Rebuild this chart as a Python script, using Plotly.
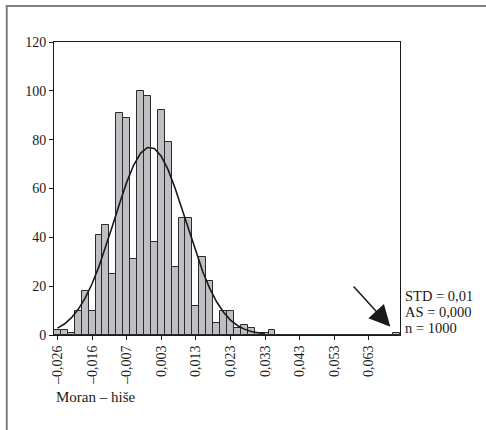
import plotly.graph_objects as go

# Histogram of Moran's I (1000 permutations), 50 bins
counts = [2, 2, 1, 10, 18, 10, 41, 45, 25, 91,
          89, 31, 100, 98, 38, 92, 79, 28, 48, 48,
          12, 32, 22, 5, 10, 10, 3, 4, 3, 1,
          1, 2, 0, 0, 0, 0, 0, 0, 0, 0,
          0, 0, 0, 0, 0, 0, 0, 0, 0, 1]
# fitted normal curve, read at bin centres
curve = [2.8, 4.5, 7.0, 10.5, 15.1, 21.0, 28.1, 36.3, 45.2, 54.1,
         62.5, 69.5, 74.4, 76.8, 76.4, 73.2, 67.6, 60.1, 51.5, 42.5,
         33.8, 25.9, 19.1, 13.6, 9.3, 6.1, 3.9, 2.4, 1.4, 0.8, 0.4]
tick_labels = ["–0,026", "–0,016", "–0,007", "0,003", "0,013",
               "0,023", "0,033", "0,043", "0,053", "0,063"]
y_ticks = [0, 20, 40, 60, 80, 100, 120]
stats_lines = ["STD = 0,01", "AS = 0,000", "n = 1000"]
x_title = "Moran – hiše"

bins = list(range(len(counts)))
tick_pos = bins[::5]

W, H = 486, 430
L, R, T, B = 54, 85.5, 41.7, 95
pw, ph = W - L - R, H - T - B
FONT = "Liberation Serif"

fig = go.Figure()
fig.add_trace(go.Bar(x=bins, y=counts, width=1,
                     marker=dict(color="#bebfc3", line=dict(color="#2a2a2a", width=1)),
                     hoverinfo="skip"))
fig.add_trace(go.Scatter(x=bins[:len(curve)], y=curve, mode="lines",
                         line=dict(color="#1a1a1a", width=1.6), hoverinfo="skip"))

def px2paper_x(px):
    return (px - L) / pw

def py2paper_y(py):
    return (H - B - py) / ph

# outer frame (left and top edges visible)
fig.add_shape(type="line", xref="paper", yref="paper",
              x0=px2paper_x(6.7), x1=px2paper_x(6.7), y0=py2paper_y(5.7), y1=py2paper_y(432),
              line=dict(color="#7f7f7f", width=2))
fig.add_shape(type="line", xref="paper", yref="paper",
              x0=px2paper_x(5.7), x1=px2paper_x(488), y0=py2paper_y(5.7), y1=py2paper_y(5.7),
              line=dict(color="#7f7f7f", width=2))

# stats text
for i, (txt, yv) in enumerate(zip(stats_lines, [16.1, 9.6, 2.9])):
    fig.add_annotation(text=txt, xref="paper", yref="y", x=px2paper_x(404), y=yv,
                       xanchor="left", yanchor="middle", showarrow=False,
                       font=dict(family=FONT, size=14.5, color="#1a1a1a"))

# arrow
fig.add_annotation(x=48.1, y=3.4, ax=42.6, ay=20.5, xref="x", yref="y", axref="x", ayref="y",
                   text="", showarrow=True, arrowhead=2, arrowsize=2.8, arrowwidth=1.5,
                   arrowcolor="#1a1a1a")

fig.add_annotation(text=x_title, xref="paper", yref="paper", x=px2paper_x(54), y=py2paper_y(397),
                   xanchor="left", yanchor="middle", showarrow=False,
                   font=dict(family=FONT, size=15, color="#1a1a1a"))

fig.update_layout(
    width=W, height=H, margin=dict(l=L, r=R, t=T, b=B),
    paper_bgcolor="white", plot_bgcolor="white", showlegend=False, bargap=0,
    font=dict(family=FONT, size=14, color="#1a1a1a"),
)
fig.update_xaxes(range=[-0.5, len(counts) - 0.5], tickmode="array", tickvals=tick_pos,
                 ticktext=tick_labels, tickangle=-90, ticks="outside", ticklen=4,
                 tickcolor="#1a1a1a", showline=True, linecolor="#1a1a1a", linewidth=1,
                 mirror=True, showgrid=False, zeroline=False,
                 tickfont=dict(family=FONT, size=14))
fig.update_yaxes(range=[0, 120], tickmode="array", tickvals=y_ticks, ticks="outside",
                 ticklen=4, tickcolor="#1a1a1a", showline=True, linecolor="#1a1a1a",
                 linewidth=1, mirror=True, showgrid=False, zeroline=False,
                 tickfont=dict(family=FONT, size=14))

fig.write_html("out.html")
